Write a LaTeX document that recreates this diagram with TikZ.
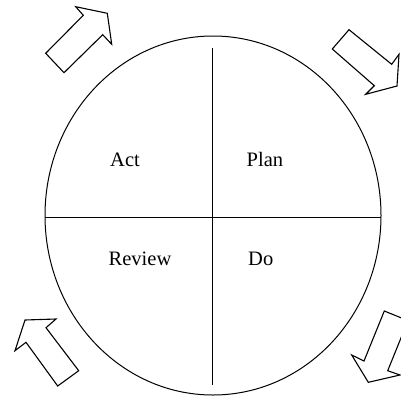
\documentclass[tikz,border=0pt]{standalone}
\usepackage{fontspec}
\setmainfont{Liberation Serif}
\begin{document}
\begin{tikzpicture}[x=1pt,y=-1pt,
  outline/.style={draw=black,line width=1pt},
  divider/.style={draw=black,line width=1.4pt},
  blockarrow/.style={draw=black,line width=1.1pt,fill=white,line join=miter},
  label/.style={anchor=base west,inner sep=0pt,font=\fontsize{20.5}{24}\selectfont}]
\useasboundingbox (0,0) rectangle (401,397);
\clip (0,0) rectangle (401,397);

% cycle body
\coordinate (c) at (213,215.5);
\draw[outline] (c) ellipse [x radius=168,y radius=179.5];
\coordinate (hl) at (45,217.5);
\coordinate (hr) at (381,217.5);
\coordinate (vt) at (212.7,47.5);
\coordinate (vb) at (212.7,385);
\draw[divider] (hl) -- (hr);
\draw[divider] (vt) -- (vb);

% quadrant labels
\node[label] (act) at (110,166.5) {Act};
\node[label] (plan) at (246.5,166.5) {Plan};
\node[label] (review) at (108.5,265.5) {Review};
\node[label] (do) at (248,265.5) {Do};

% block arrows around the cycle
\draw[blockarrow] (45.7,53.3) -- (83.3,15.3) -- (75.7,6.7) -- (107.3,13.3)
  -- (111.7,44.3) -- (102.7,34.7) -- (64,72.7) -- cycle;
\draw[blockarrow] (332.3,49) -- (349,29.7) -- (391.7,64.3) -- (399,54.3)
  -- (397,86) -- (365.7,94.3) -- (374.3,85.7) -- cycle;
\draw[blockarrow] (408,320.6) -- (384.3,311) -- (364,361) -- (351.7,355)
  -- (368.3,382.3) -- (400,375) -- (387.7,370.7) -- cycle;
\draw[blockarrow] (78.7,370.7) -- (57.7,386) -- (26,342.3) -- (15,350.7)
  -- (25,320) -- (56,319) -- (46,327.7) -- cycle;
\end{tikzpicture}
\end{document}
